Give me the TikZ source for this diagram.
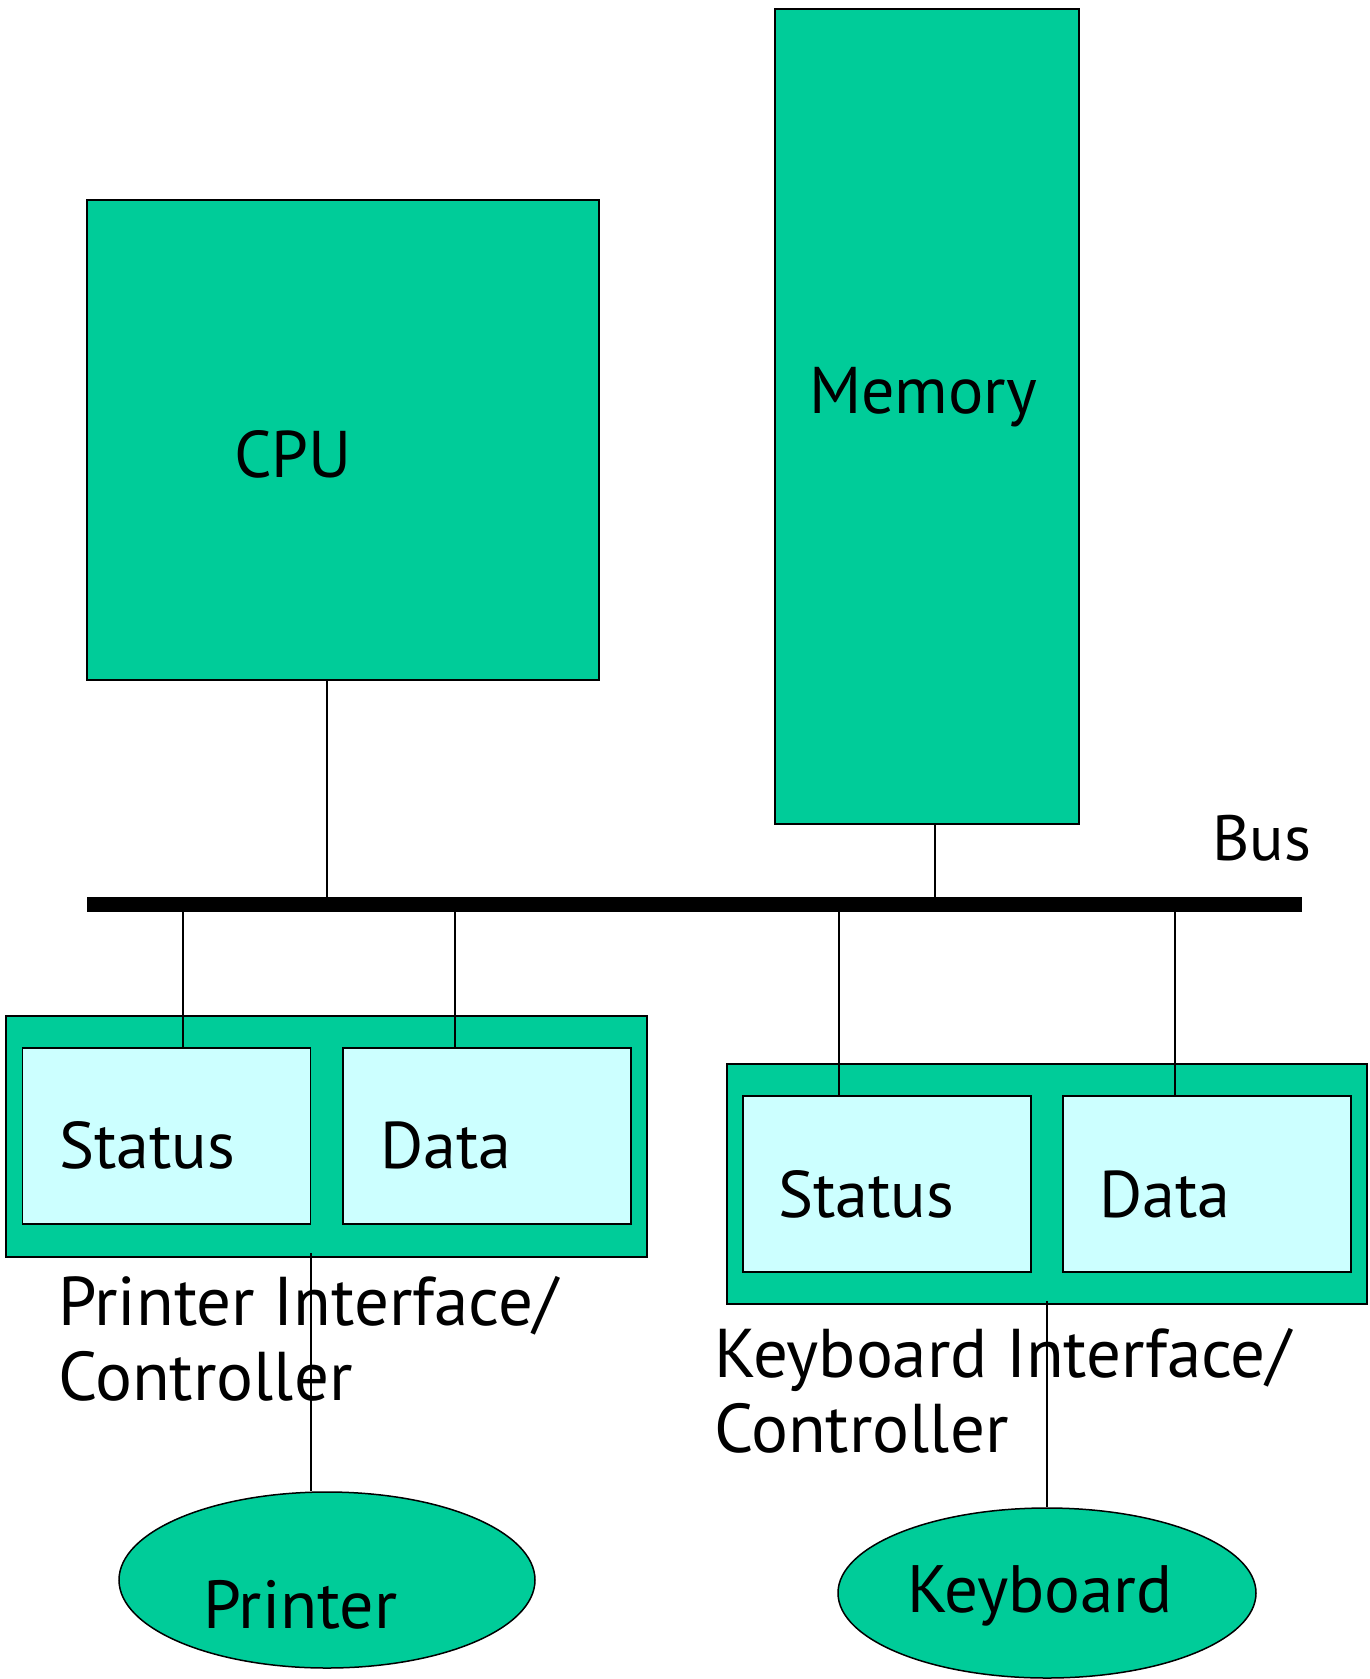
\documentclass[tikz,border=0pt]{standalone}
\usepackage{fontspec}
\setmainfont{PT Sans}
\usetikzlibrary{shapes.geometric}
\definecolor{grn}{RGB}{0,204,153}
\definecolor{lcyan}{RGB}{204,255,255}
\tikzset{
  greenbox/.style={draw=black, fill=grn, line width=1.5pt, minimum width=#1, inner sep=0pt},
  regbox/.style={draw=black, fill=lcyan, line width=1.5pt, inner sep=0pt, minimum width=288pt, minimum height=176pt},
  lbl/.style={anchor=base west, inner sep=0pt, font=\fontsize{66}{74}\selectfont, align=left},
  biglbl/.style={lbl, font=\fontsize{69}{75}\selectfont},
  wire/.style={draw=black, line width=1.5pt},
  dev/.style={ellipse, draw=black, fill=grn, line width=1.5pt, inner sep=0pt}
}
\begin{document}
\begin{tikzpicture}[x=1pt,y=-1pt]
\useasboundingbox (0,0) rectangle (1369,1679);
% main blocks
\node[greenbox=512pt, minimum height=480pt] (cpu) at (343,440) {};
\node[greenbox=304pt, minimum height=815pt] (mem) at (927,416.5) {};
\node[draw=none, fill=black, minimum width=1215pt, minimum height=15pt, inner sep=0pt] (bus) at (694.5,904.5) {};
% printer interface
\node[greenbox=641pt, minimum height=241pt] (pout) at (326.5,1136.5) {};
\node[regbox] (pstat) at (166.5,1136) {};
\node[regbox] (pdata) at (487,1136) {};
% keyboard interface
\node[greenbox=640pt, minimum height=240pt] (kout) at (1047,1184) {};
\node[regbox] (kstat) at (887,1184) {};
\node[regbox] (kdata) at (1207,1184) {};
% devices
\node[dev, minimum width=416pt, minimum height=176pt] (printer) at (327,1580) {};
\node[dev, minimum width=418pt, minimum height=170pt] (keyb) at (1047,1593) {};
% labels
\node[lbl] (tcpu) at (234,477) {CPU};
\node[lbl] (tmem) at (809,413) {Memory};
\node[lbl, font=\fontsize{64}{74}\selectfont] (tbus) at (1212,860) {Bus};
\node[lbl] (tps) at (59,1168) {Status};
\node[lbl] (tpd) at (380,1168) {Data};
\node[lbl] (tks) at (778,1217) {Status};
\node[lbl] (tkd) at (1099,1217) {Data};
\node[biglbl] (tpi) at (58,1400) {Printer Interface/\\Controller};
\node[biglbl] (tki) at (714,1452) {Keyboard Interface/\\Controller};
\node[lbl, font=\fontsize{68}{74}\selectfont] (tpr) at (203,1628) {Printer};
\node[lbl, font=\fontsize{67}{74}\selectfont] (tkb) at (907,1612) {Keyboard};
% connector x positions
\coordinate (xc) at (327,0);
\coordinate (xm) at (935,0);
\coordinate (x1) at (183,0);
\coordinate (x2) at (455,0);
\coordinate (x3) at (839,0);
\coordinate (x4) at (1175,0);
\coordinate (xp) at (311,0);
\coordinate (xk) at (1047,0);
% connectors
\draw[wire] (cpu.south -| xc) -- (bus.north -| xc);
\draw[wire] (mem.south -| xm) -- (bus.north -| xm);
\draw[wire] (bus.south -| x1) -- (pstat.north -| x1);
\draw[wire] (bus.south -| x2) -- (pdata.north -| x2);
\draw[wire] (bus.south -| x3) -- (kstat.north -| x3);
\draw[wire] (bus.south -| x4) -- (kdata.north -| x4);
\draw[wire] ([yshift=5pt]pout.south -| xp) -- (printer.north -| xp);
\draw[wire] ([yshift=4pt]kout.south -| xk) -- (keyb.north);
\end{tikzpicture}
\end{document}
